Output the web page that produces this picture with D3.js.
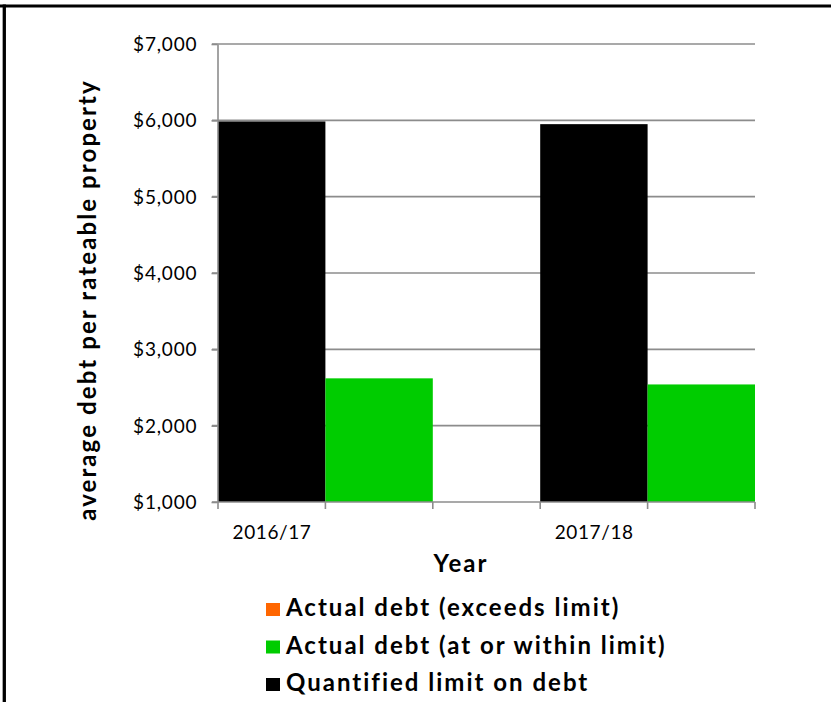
<!DOCTYPE html>
<html>
<head>
<meta charset="utf-8">
<script src="https://cdn.jsdelivr.net/npm/d3@7"></script>
<style>
  html, body { margin: 0; padding: 0; background: #fff; }
  svg { display: block; }
  text { font-family: Lato, "Open Sans", sans-serif; fill: #000; }
</style>
</head>
<body>
<svg id="chart" width="831" height="702"></svg>
<script>
// ---- data ----
const years = ["2016/17", "2017/18"];
const quantifiedLimit = [5985, 5950];
const actualWithin = [2620, 2540];
const actualExceeds = [0, 0];
const yTicks = [1000, 2000, 3000, 4000, 5000, 6000, 7000];
const legendLabels = ["Actual debt (exceeds limit)", "Actual debt (at or within limit)", "Quantified limit on debt"];
const legendColors = ["#FF6600", "#00CC00", "#000000"];
const yTitle = "average debt per rateable property";
const xTitle = "Year";

// ---- layout ----
const svg = d3.select("#chart");
const plotLeft = 218, plotRight = 755, plotTop = 44, plotBottom = 502;

// slots: each year has a limit slot and an actual slot, with a gap slot between years
const slots = [];
years.forEach((yr, i) => {
  if (i > 0) slots.push("gap" + i);
  slots.push(yr + "|limit");
  slots.push(yr + "|actual");
});

const x = d3.scaleBand().domain(slots).range([plotLeft, plotRight]).paddingInner(0).paddingOuter(0);
const y = d3.scaleLinear().domain([1000, 7000]).range([plotBottom, plotTop]);

// frame
svg.append("line").attr("x1", 0).attr("x2", 831).attr("y1", 6).attr("y2", 6)
  .attr("stroke", "#000").attr("stroke-width", 3);
svg.append("line").attr("x1", 4.3).attr("x2", 4.3).attr("y1", 4.5).attr("y2", 702)
  .attr("stroke", "#000").attr("stroke-width", 3.3);

const gridColor = "#8c8c8c";

// gridlines
svg.append("g").selectAll("line").data(yTicks.filter(d => d > 1000)).join("line")
  .attr("x1", plotLeft - 6).attr("x2", plotRight)
  .attr("y1", d => y(d)).attr("y2", d => y(d))
  .attr("stroke", gridColor).attr("stroke-width", 1.6);

// bars
const barData = [];
years.forEach((yr, i) => {
  barData.push({slot: yr + "|limit", v: quantifiedLimit[i], c: legendColors[2]});
  barData.push({slot: yr + "|actual", v: actualWithin[i], c: legendColors[1]});
  if (actualExceeds[i] > 0) barData.push({slot: yr + "|actual", v: actualExceeds[i], c: legendColors[0]});
});
svg.append("g").selectAll("rect").data(barData).join("rect")
  .attr("x", d => x(d.slot))
  .attr("width", x.bandwidth())
  .attr("y", d => y(d.v))
  .attr("height", d => y(1000) - y(d.v))
  .attr("fill", d => d.c);

// y axis
const yAxis = d3.axisLeft(y).tickValues(yTicks).tickSize(6).tickSizeOuter(0)
  .tickFormat(d => "$" + d3.format(",")(d));
const gy = svg.append("g").attr("transform", `translate(${plotLeft - 0.5},0)`).call(yAxis);
gy.select(".domain").attr("stroke", gridColor).attr("stroke-width", 1.6);
gy.selectAll(".tick line").attr("stroke", gridColor).attr("stroke-width", 1.6);
gy.selectAll(".tick text").attr("x", -20.2).attr("dy", "0.35em")
  .style("font-family", "Lato, sans-serif").style("font-size", "19px")
  .style("letter-spacing", "0.8px").attr("fill", "#000");

// x axis line and ticks at slot boundaries
const boundaries = slots.map(s => x(s)).concat([plotRight]);
svg.append("line").attr("x1", plotLeft - 6).attr("x2", plotRight).attr("y1", plotBottom).attr("y2", plotBottom)
  .attr("stroke", gridColor).attr("stroke-width", 1.6);
svg.append("g").selectAll("line").data(boundaries).join("line")
  .attr("x1", d => d).attr("x2", d => d).attr("y1", plotBottom).attr("y2", plotBottom + 7)
  .attr("stroke", gridColor).attr("stroke-width", 1.6);

// x labels
svg.append("g").selectAll("text").data(years).join("text")
  .attr("x", d => x(d + "|limit") + x.bandwidth() / 2 + 0.3)
  .attr("y", 539)
  .attr("text-anchor", "middle")
  .style("font-size", "19px")
  .style("letter-spacing", "0.6px")
  .text(d => d);

// axis titles
svg.append("text").attr("x", 461).attr("y", 572).attr("text-anchor", "middle")
  .style("font-size", "24px").style("font-weight", "bold").style("letter-spacing", "2px").text(xTitle);
svg.append("text").attr("transform", "translate(96,300) rotate(-90)").attr("text-anchor", "middle")
  .style("font-size", "24px").style("font-weight", "bold").style("letter-spacing", "2.1px").text(yTitle);

// legend
const lg = svg.append("g");
legendLabels.forEach((lab, i) => {
  const by = 616 + i * 37.5;
  lg.append("rect").attr("x", 266).attr("y", by - 13).attr("width", 14).attr("height", 13)
    .attr("fill", legendColors[i]);
  lg.append("text").attr("x", 286).attr("y", by)
    .style("font-size", "24px").style("font-weight", "bold").style("letter-spacing", "2px").text(lab);
});
</script>
</body>
</html>
